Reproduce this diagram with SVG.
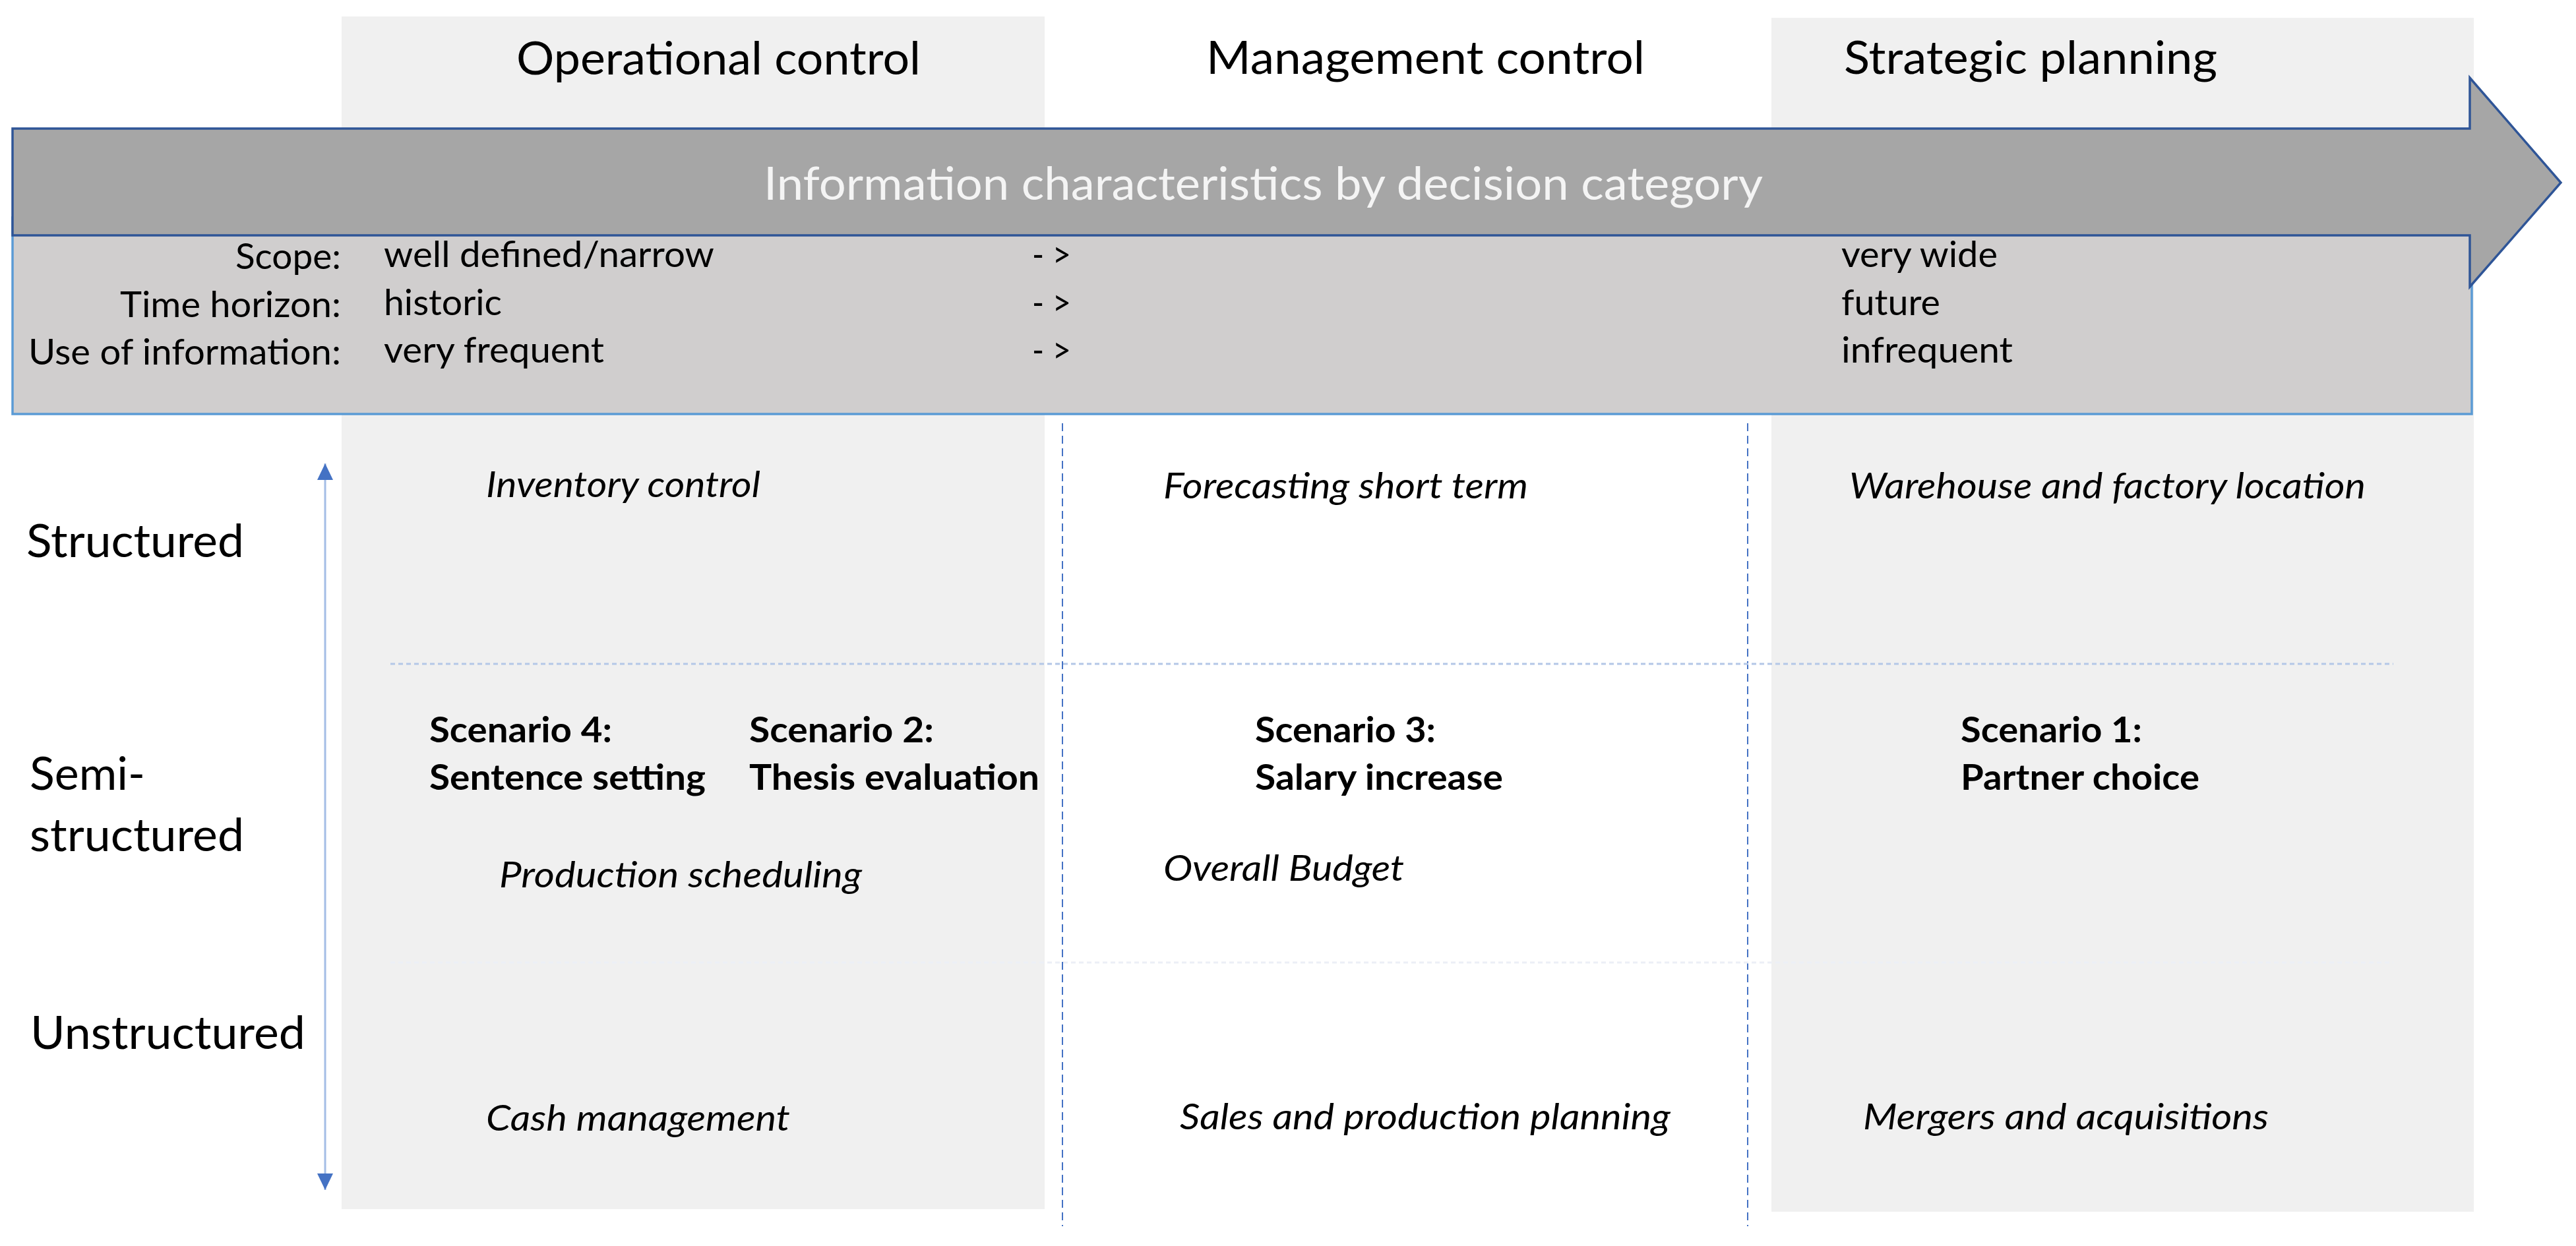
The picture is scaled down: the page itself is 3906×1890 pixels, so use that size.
<svg xmlns="http://www.w3.org/2000/svg" width="3906" height="1890" viewBox="0 0 3906 1890">
<style>
text{font-family:Lato,"Open Sans","Liberation Sans",sans-serif;fill:#000}
.h{font-size:69px}
.b{font-size:54px}
.i{font-size:54px;font-style:italic}
.s{font-size:54px;font-weight:bold}
.w{fill:#f4f4f4}
.col{fill:#f0f0f0}
.vd{stroke:#4472c4;stroke-width:2;stroke-dasharray:12 7;fill:none}
.hd{stroke:#b4c7e7;stroke-width:3;stroke-dasharray:7 5;fill:none}
.hf{stroke:#eceff6;stroke-width:3;stroke-dasharray:7 5;fill:none}
</style>
<defs>
<marker id="ah" markerUnits="userSpaceOnUse" markerWidth="26" markerHeight="26" refX="25" refY="12" orient="auto-start-reverse" viewBox="0 0 26 24">
<path d="M0,0 L25,12 L0,24 z" fill="#4472c4"/>
</marker>
</defs>
<rect width="3906" height="1890" fill="#fff"/>
<g id="columns">
<rect id="col-operational" class="col" x="518" y="25" width="1066" height="1809"/>
<rect id="col-strategic" class="col" x="2686" y="27" width="1065" height="1811"/>
</g>
<g id="headers">
<text class="h" x="783" y="113" textLength="613" lengthAdjust="spacingAndGlyphs">Operational control</text>
<text class="h" x="1829" y="112" textLength="665" lengthAdjust="spacingAndGlyphs">Management control</text>
<text class="h" x="2796" y="112" textLength="566" lengthAdjust="spacingAndGlyphs">Strategic planning</text>
</g>
<g id="info-box">
<rect x="19" y="330" width="3729" height="298" fill="#d0cece" stroke="#5b9bd5" stroke-width="3.5"/>
<text class="b" x="357" y="408" textLength="160" lengthAdjust="spacingAndGlyphs">Scope:</text>
<text class="b" x="182" y="481" textLength="335" lengthAdjust="spacingAndGlyphs">Time horizon:</text>
<text class="b" x="43" y="553" textLength="474" lengthAdjust="spacingAndGlyphs">Use of information:</text>
<text class="b" x="582" y="405" textLength="501" lengthAdjust="spacingAndGlyphs">well defined/narrow</text>
<text class="b" x="582" y="478" textLength="179" lengthAdjust="spacingAndGlyphs">historic</text>
<text class="b" x="582" y="550" textLength="334" lengthAdjust="spacingAndGlyphs">very frequent</text>
<text class="b" x="1565" y="405" textLength="59" lengthAdjust="spacingAndGlyphs">- &gt;</text>
<text class="b" x="1565" y="478" textLength="59" lengthAdjust="spacingAndGlyphs">- &gt;</text>
<text class="b" x="1565" y="550" textLength="59" lengthAdjust="spacingAndGlyphs">- &gt;</text>
<text class="b" x="2792" y="405" textLength="237" lengthAdjust="spacingAndGlyphs">very wide</text>
<text class="b" x="2792" y="478" textLength="150" lengthAdjust="spacingAndGlyphs">future</text>
<text class="b" x="2792" y="550" textLength="260" lengthAdjust="spacingAndGlyphs">infrequent</text>
</g>
<g id="big-arrow">
<polygon points="19,195 3745,195 3745,118 3883,277 3745,435 3745,357 19,357" fill="#a6a6a6" stroke="#2f5597" stroke-width="3.5" stroke-linejoin="miter"/>
<text class="h w" x="1158" y="303" textLength="1515" lengthAdjust="spacingAndGlyphs">Information characteristics by decision category</text>
</g>
<g id="connectors">
<line class="vd" x1="1611" y1="642" x2="1611" y2="1860"/>
<line class="vd" x1="2650" y1="642" x2="2650" y2="1860"/>
<line class="hd" x1="592" y1="1007" x2="3629" y2="1007"/>
<line class="hf" x1="592" y1="1460" x2="3629" y2="1460"/>
<line x1="493" y1="703" x2="493" y2="1805" stroke="#a4bde6" stroke-width="3" marker-start="url(#ah)" marker-end="url(#ah)"/>
</g>
<g id="row-labels">
<text class="h" x="40" y="845" textLength="330" lengthAdjust="spacingAndGlyphs">Structured</text>
<text class="h" x="45" y="1198" textLength="175" lengthAdjust="spacingAndGlyphs">Semi-</text>
<text class="h" x="45" y="1291" textLength="325" lengthAdjust="spacingAndGlyphs">structured</text>
<text class="h" x="46" y="1591" textLength="417" lengthAdjust="spacingAndGlyphs">Unstructured</text>
</g>
<g id="cell-inventory"><text class="i" x="737" y="754" textLength="416" lengthAdjust="spacingAndGlyphs">Inventory control</text></g>
<g id="cell-forecasting"><text class="i" x="1764" y="756" textLength="553" lengthAdjust="spacingAndGlyphs">Forecasting short term</text></g>
<g id="cell-warehouse"><text class="i" x="2804" y="756" textLength="783" lengthAdjust="spacingAndGlyphs">Warehouse and factory location</text></g>
<g id="scenario-4"><text class="s" x="651" y="1126" textLength="277" lengthAdjust="spacingAndGlyphs">Scenario 4:</text><text class="s" x="651" y="1198" textLength="419" lengthAdjust="spacingAndGlyphs">Sentence setting</text></g>
<g id="scenario-2"><text class="s" x="1136" y="1126" textLength="280" lengthAdjust="spacingAndGlyphs">Scenario 2:</text><text class="s" x="1136" y="1198" textLength="440" lengthAdjust="spacingAndGlyphs">Thesis evaluation</text></g>
<g id="scenario-3"><text class="s" x="1903" y="1126" textLength="274" lengthAdjust="spacingAndGlyphs">Scenario 3:</text><text class="s" x="1903" y="1198" textLength="376" lengthAdjust="spacingAndGlyphs">Salary increase</text></g>
<g id="scenario-1"><text class="s" x="2973" y="1126" textLength="275" lengthAdjust="spacingAndGlyphs">Scenario 1:</text><text class="s" x="2973" y="1198" textLength="362" lengthAdjust="spacingAndGlyphs">Partner choice</text></g>
<g id="cell-production"><text class="i" x="757" y="1346" textLength="550" lengthAdjust="spacingAndGlyphs">Production scheduling</text></g>
<g id="cell-budget"><text class="i" x="1764" y="1336" textLength="365" lengthAdjust="spacingAndGlyphs">Overall Budget</text></g>
<g id="cell-cash"><text class="i" x="737" y="1715" textLength="461" lengthAdjust="spacingAndGlyphs">Cash management</text></g>
<g id="cell-sales"><text class="i" x="1789" y="1713" textLength="744" lengthAdjust="spacingAndGlyphs">Sales and production planning</text></g>
<g id="cell-mergers"><text class="i" x="2825" y="1713" textLength="615" lengthAdjust="spacingAndGlyphs">Mergers and acquisitions</text></g>
</svg>
